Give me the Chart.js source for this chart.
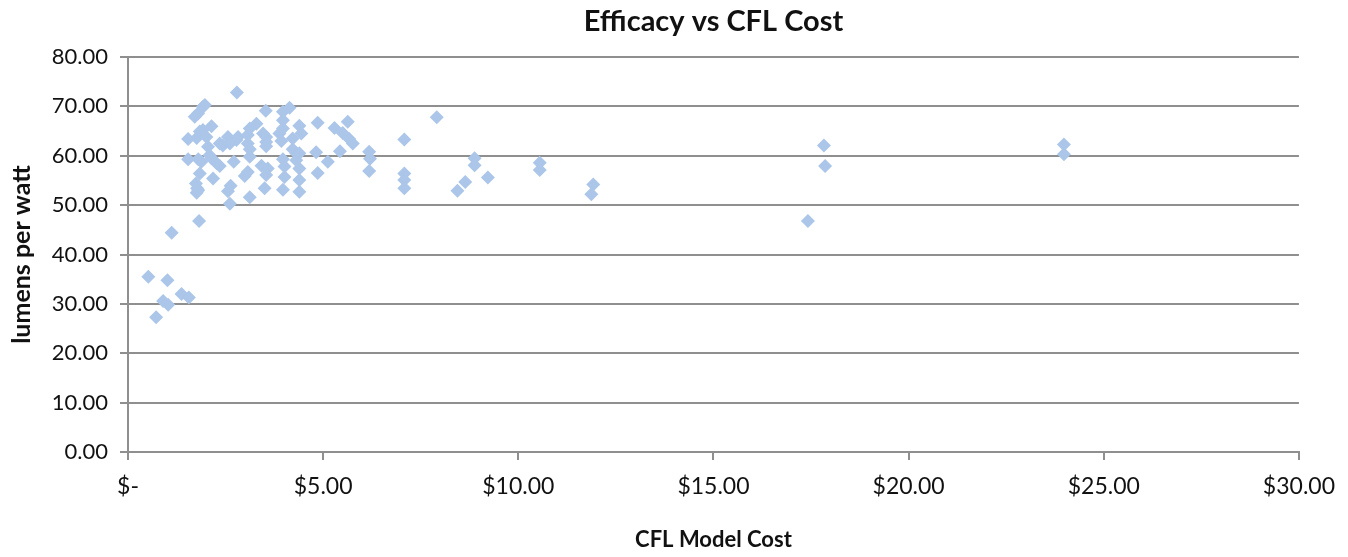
<!DOCTYPE html>
<html>
<head>
<meta charset="utf-8">
<script src="https://cdn.jsdelivr.net/npm/chart.js@4"></script>
<style>
  html, body { margin: 0; padding: 0; background: #fff; }
  #wrap { width: 1348px; height: 557px; }
</style>
</head>
<body>
<div id="wrap"><canvas id="chart" width="1348" height="557"></canvas></div>
<script>
// CFL model cost ($) and efficacy (lumens per watt)
const cost = [
  0.52, 1.01, 1.37, 1.56, 0.90, 1.03, 0.72, 1.12, 1.82,
  1.54, 1.54, 1.71, 1.80, 1.92, 1.97, 1.76, 1.84, 1.92, 2.01, 2.05, 2.14,
  1.80, 1.88, 2.09, 2.14, 2.27, 2.35, 1.84, 2.18, 1.74, 1.77, 1.76, 1.80,
  2.35, 2.43, 2.56, 2.61, 2.78, 2.82, 2.71, 2.63, 2.56, 2.61, 2.79,
  3.07, 3.12, 3.29, 3.07, 3.12, 3.12, 3.07, 2.99, 3.12,
  3.46, 3.54, 3.54, 3.54, 3.42, 3.58, 3.54, 3.50, 3.53,
  3.88, 3.93, 3.97, 3.97, 3.97, 4.14, 3.97, 4.01, 4.01, 3.97,
  4.22, 4.22, 4.31, 4.31, 4.39, 4.44, 4.39, 4.39, 4.39, 4.39, 4.86, 4.82, 4.86,
  5.12, 5.29, 5.43, 5.50, 5.63, 5.67, 5.76, 6.18, 6.20, 6.18,
  7.08, 7.08, 7.08, 7.08, 7.91, 8.88, 8.88, 8.64, 8.44, 9.22,
  10.55, 10.55, 11.92, 11.87, 17.83, 17.86, 17.42, 23.98, 23.98
];
const efficacy = [
  35.5, 34.8, 32.0, 31.3, 30.6, 29.8, 27.3, 44.4, 46.8,
  63.4, 59.3, 67.9, 68.6, 69.9, 70.3, 63.6, 64.9, 65.2, 63.8, 61.8, 66.0,
  59.3, 58.8, 60.1, 59.5, 58.5, 57.9, 56.4, 55.4, 54.4, 53.4, 52.5, 53.0,
  62.5, 62.1, 63.8, 62.5, 63.2, 63.8, 58.8, 53.9, 52.8, 50.3, 72.8,
  64.2, 65.5, 66.5, 62.5, 61.3, 59.8, 56.7, 55.9, 51.6,
  64.5, 63.8, 62.8, 61.9, 58.0, 57.4, 56.1, 53.4, 69.1,
  64.5, 63.0, 67.2, 65.5, 68.9, 69.7, 59.3, 57.8, 55.7, 53.1,
  63.5, 61.3, 60.5, 59.1, 66.1, 64.5, 57.4, 55.1, 52.7, 60.5, 66.7, 60.7, 56.5,
  58.8, 65.6, 60.9, 64.6, 66.9, 63.4, 62.5, 60.8, 59.4, 56.9,
  63.3, 56.4, 55.1, 53.4, 67.8, 59.5, 58.1, 54.7, 52.9, 55.6,
  58.6, 57.1, 54.2, 52.2, 62.1, 57.9, 46.8, 62.3, 60.3
];
const xTicks = [0, 5, 10, 15, 20, 25, 30];
const yTicks = [0, 10, 20, 30, 40, 50, 60, 70, 80];
const chartTitle = 'Efficacy vs CFL Cost';

const points = cost.map((c, i) => ({ x: c, y: efficacy[i] }));
const font = 'Lato, "DejaVu Sans", sans-serif';
const gridGray = '#8f8f8f';

// title centred over the plot area, like the original
const plotTitle = {
  id: 'plotTitle',
  afterDraw(chart) {
    const { ctx, chartArea } = chart;
    ctx.save();
    ctx.font = 'bold 29px ' + font;
    ctx.fillStyle = '#111';
    ctx.textAlign = 'center';
    ctx.textBaseline = 'middle';
    ctx.fillText(chartTitle, (chartArea.left + chartArea.right) / 2, 22);
    ctx.restore();
  }
};

new Chart(document.getElementById('chart'), {
  type: 'scatter',
  data: {
    datasets: [{
      data: points,
      pointStyle: 'rectRot',
      pointRadius: 7,
      pointHoverRadius: 7,
      backgroundColor: '#abc6e9',
      borderColor: '#abc6e9',
      borderWidth: 0
    }]
  },
  plugins: [plotTitle],
  options: {
    responsive: false,
    animation: false,
    layout: { padding: { left: 0, right: 46, top: 57, bottom: 0 } },
    plugins: {
      legend: { display: false },
      tooltip: { enabled: false },
      title: { display: false }
    },
    scales: {
      x: {
        type: 'linear',
        min: xTicks[0],
        max: xTicks[xTicks.length - 1],
        afterBuildTicks: s => { s.ticks = xTicks.map(v => ({ value: v })); },
        afterFit: s => { s.height = 105; },
        grid: { drawOnChartArea: false, tickLength: 8, color: gridGray, lineWidth: 2 },
        border: { color: gridGray, width: 2 },
        ticks: {
          padding: 13,
          color: '#111',
          font: { family: font, size: 23 },
          callback: v => v === 0 ? '$-' : '$' + v.toFixed(2)
        },
        title: {
          display: true,
          text: 'CFL Model Cost',
          color: '#111',
          font: { family: font, size: 22, weight: 'bold' },
          padding: { top: 4, bottom: 4 }
        }
      },
      y: {
        min: yTicks[0],
        max: yTicks[yTicks.length - 1],
        afterBuildTicks: s => { s.ticks = yTicks.map(v => ({ value: v })); },
        afterFit: s => { s.width = 128; },
        grid: { tickLength: 8, color: gridGray, lineWidth: 2 },
        border: { color: gridGray, width: 2 },
        ticks: {
          padding: 12,
          color: '#111',
          font: { family: font, size: 22 },
          callback: v => v.toFixed(2)
        },
        title: {
          display: true,
          text: 'lumens per watt',
          color: '#111',
          font: { family: font, size: 25, weight: 'bold' },
          padding: { top: 7, bottom: 4 }
        }
      }
    }
  }
});
</script>
</body>
</html>
